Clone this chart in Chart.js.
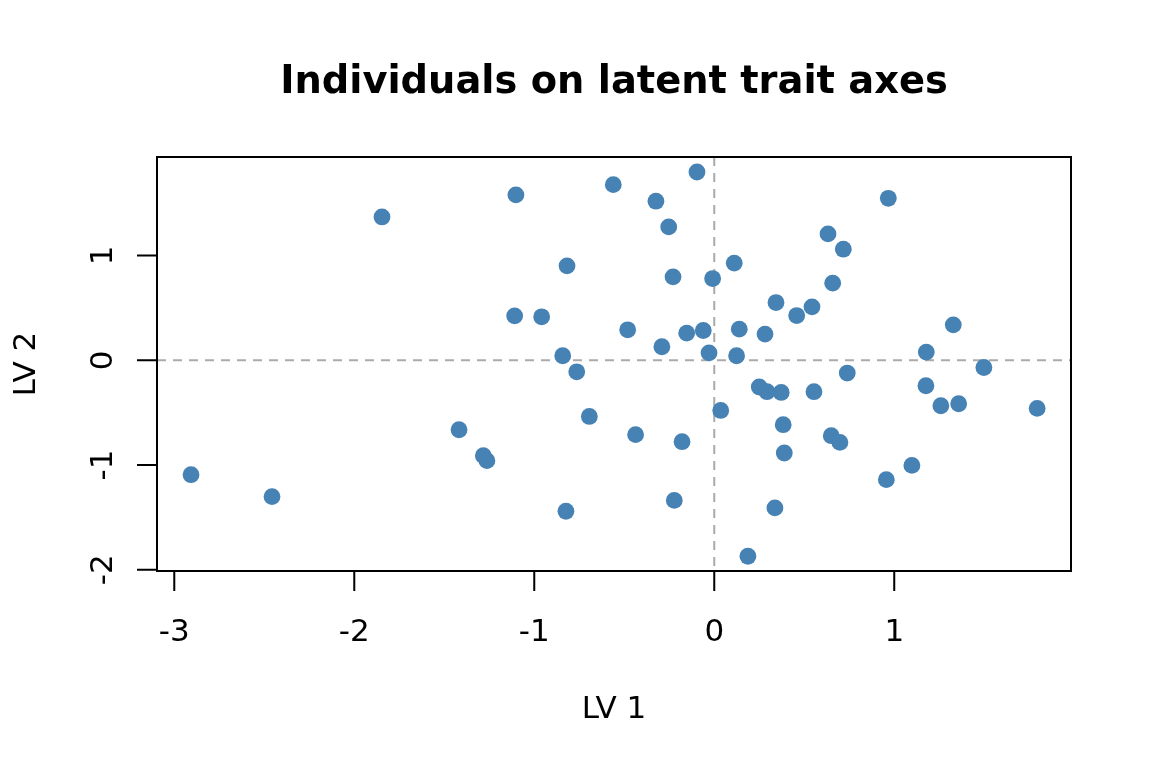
<!DOCTYPE html>
<html>
<head>
<meta charset="utf-8">
<title>Individuals on latent trait axes</title>
<script src="https://cdn.jsdelivr.net/npm/chart.js@4"></script>
<style>
  html, body { margin: 0; padding: 0; background: #fff; }
  #wrap { width: 1152px; height: 768px; position: relative; }
</style>
</head>
<body>
<div id="wrap"><canvas id="lvChart"></canvas></div>
<script>
// scores of each individual on the two latent variables
const lv1 = [
  -2.907, -2.457, -1.846, -1.418, -1.283, -1.263, -1.102, -1.109, -0.959, -0.842,
  -0.818, -0.764, -0.694, -0.824, -0.561, -0.481, -0.437, -0.324, -0.291, -0.253,
  -0.229, -0.222, -0.179, -0.153, -0.096, -0.061, -0.029, -0.009, 0.036, 0.111,
  0.124, 0.139, 0.187, 0.250, 0.282, 0.293, 0.337, 0.343, 0.372, 0.383,
  0.389, 0.458, 0.543, 0.554, 0.632, 0.650, 0.658, 0.698, 0.717, 0.739,
  0.956, 0.967, 1.098, 1.176, 1.178, 1.259, 1.328, 1.358, 1.498, 1.794
];
const lv2 = [
  -1.092, -1.301, 1.368, -0.663, -0.910, -0.958, 1.578, 0.424, 0.415, 0.043,
  0.901, -0.110, -0.536, -1.441, 1.676, 0.291, -0.710, 1.518, 0.129, 1.273,
  0.796, -1.337, -0.777, 0.259, 1.797, 0.284, 0.071, 0.780, -0.479, 0.927,
  0.043, 0.297, -1.870, -0.255, 0.250, -0.300, -1.409, 0.551, -0.307, -0.615,
  -0.885, 0.427, 0.510, -0.300, 1.206, -0.720, 0.736, -0.784, 1.060, -0.122,
  -1.139, 1.546, -1.003, -0.243, 0.078, -0.434, 0.338, -0.415, -0.069, -0.459
];
const xTicks = [-3, -2, -1, 0, 1];
const yTicks = [-2, -1, 0, 1];
const mainTitle = 'Individuals on latent trait axes';
const xTitle = 'LV 1';
const yTitle = 'LV 2';

const FONT = '"DejaVu Sans", sans-serif';

// R-style box, outward ticks, rotated y labels, zero lines
const basePlot = {
  id: 'basePlot',
  beforeDatasetsDraw(chart) {
    const { ctx, chartArea: a, scales: { x, y } } = chart;
    const x0 = x.getPixelForValue(0);
    const y0 = y.getPixelForValue(0);
    ctx.save();
    ctx.strokeStyle = '#aaaaaa';
    ctx.lineWidth = 2;
    ctx.setLineDash([9, 7]);
    ctx.beginPath();
    ctx.moveTo(a.left, y0); ctx.lineTo(a.right, y0);
    ctx.moveTo(x0, a.top); ctx.lineTo(x0, a.bottom);
    ctx.stroke();
    ctx.restore();
  },
  afterDraw(chart) {
    const { ctx, chartArea: a, scales: { x, y } } = chart;
    ctx.save();
    ctx.strokeStyle = '#000';
    ctx.lineWidth = 2;
    ctx.strokeRect(a.left, a.top, a.right - a.left, a.bottom - a.top);

    // x axis
    ctx.beginPath();
    xTicks.forEach(v => {
      const px = x.getPixelForValue(v);
      ctx.moveTo(px, a.bottom); ctx.lineTo(px, a.bottom + 20);
    });
    ctx.stroke();
    ctx.fillStyle = '#000';
    ctx.font = '31px ' + FONT;
    ctx.textAlign = 'center';
    ctx.textBaseline = 'alphabetic';
    xTicks.forEach(v => ctx.fillText(String(v), x.getPixelForValue(v), a.bottom + 70));

    // y axis
    ctx.beginPath();
    yTicks.forEach(v => {
      const py = y.getPixelForValue(v);
      ctx.moveTo(a.left, py); ctx.lineTo(a.left - 20, py);
    });
    ctx.stroke();
    yTicks.forEach(v => {
      ctx.save();
      ctx.translate(a.left - 45, y.getPixelForValue(v));
      ctx.rotate(-Math.PI / 2);
      ctx.fillText(String(v), 0, 0);
      ctx.restore();
    });

    // titles
    const cx = (a.left + a.right) / 2;
    ctx.fillText(xTitle, cx, 718);
    ctx.save();
    ctx.translate(35, (a.top + a.bottom) / 2);
    ctx.rotate(-Math.PI / 2);
    ctx.fillText(yTitle, 0, 0);
    ctx.restore();
    ctx.font = 'bold 38.4px ' + FONT;
    ctx.fillText(mainTitle, cx, 93);
    ctx.restore();
  }
};

const points = lv1.map((v, i) => ({ x: v, y: lv2[i] }));

new Chart(document.getElementById('lvChart'), {
  type: 'scatter',
  data: {
    datasets: [{
      data: points,
      backgroundColor: '#4682b4',
      borderColor: '#4682b4',
      borderWidth: 0,
      pointRadius: 8.4,
      pointHoverRadius: 8.4
    }]
  },
  options: {
    responsive: true,
    maintainAspectRatio: false,
    animation: false,
    layout: { padding: { left: 157, top: 157, right: 81, bottom: 197 } },
    scales: {
      x: { type: 'linear', display: false, min: -3.096, max: 1.982 },
      y: { type: 'linear', display: false, min: -2.011, max: 1.940 }
    },
    plugins: {
      legend: { display: false },
      tooltip: { enabled: false }
    }
  },
  plugins: [basePlot]
});
</script>
</body>
</html>
